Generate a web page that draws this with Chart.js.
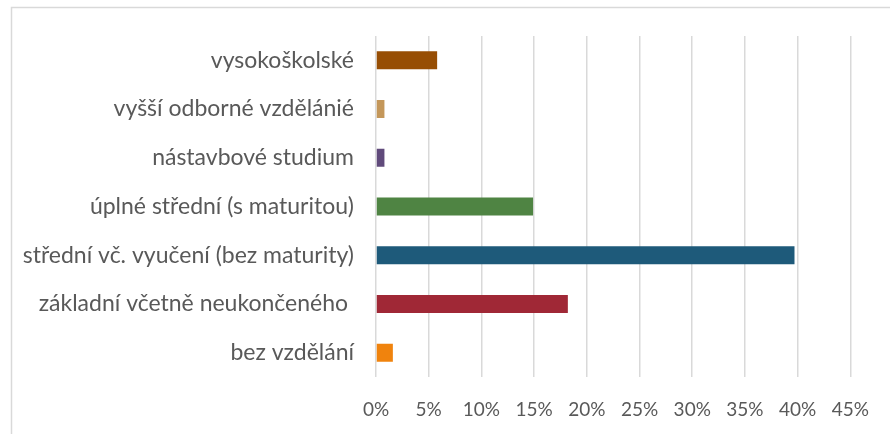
<!DOCTYPE html>
<html><head><meta charset="utf-8">
<script src="https://cdn.jsdelivr.net/npm/chart.js@4.4.1/dist/chart.umd.min.js"></script>
<style>html,body{margin:0;padding:0;background:#fff;}#wrap{width:890px;height:434px;position:relative;}</style>
</head><body><div id="wrap"><canvas id="c" width="890" height="434"></canvas></div>
<script>
const categories = ["vysokoškolské","vyšší odborné vzdělánié","nástavbové studium","úplné střední (s maturitou)","střední vč. vyučení (bez maturity)","základní včetně neukončeného ","bez vzdělání"];
const values = [5.8, 0.8, 0.8, 14.9, 39.7, 18.2, 1.6];
const barColors = ["#974E04","#C4975A","#604A7B","#4F8443","#1E5A7A","#A02836","#F0830D"];
const tickMax = 45;

const framePlugin = {
  id:'frame',
  beforeDraw(chart){
    const ctx = chart.ctx;
    ctx.save();
    ctx.fillStyle='#fff';ctx.fillRect(0,0,chart.width,chart.height);
    ctx.strokeStyle='#d9d9d9';ctx.lineWidth=1.5;
    ctx.strokeRect(11.5,7.5,900,500);
    ctx.restore();
  }
};

new Chart(document.getElementById('c'),{
  type:'bar',
  data:{labels:categories,datasets:[{data:values,backgroundColor:barColors,barPercentage:0.37,categoryPercentage:1}]},
  options:{
    indexAxis:'y',responsive:false,animation:false,
    layout:{padding:{left:0,right:39,top:36,bottom:0}},
    plugins:{legend:{display:false},tooltip:{enabled:false}},
    scales:{
      x:{min:0,max:tickMax,
        ticks:{stepSize:5,callback:v=>v+'%',color:'#595959',font:{family:'Lato',size:19},padding:21,maxRotation:0},
        grid:{color:'#d9d9d9',lineWidth:1.5,drawTicks:false},
        border:{display:false},
        afterFit(s){s.height=57;}
      },
      y:{
        ticks:{color:'#595959',font:{family:'Lato',size:23},padding:22},
        grid:{display:false,drawTicks:false},
        border:{display:false},
        afterFit(s){s.width=376;}
      }
    }
  },
  plugins:[framePlugin]
});
</script></body></html>
